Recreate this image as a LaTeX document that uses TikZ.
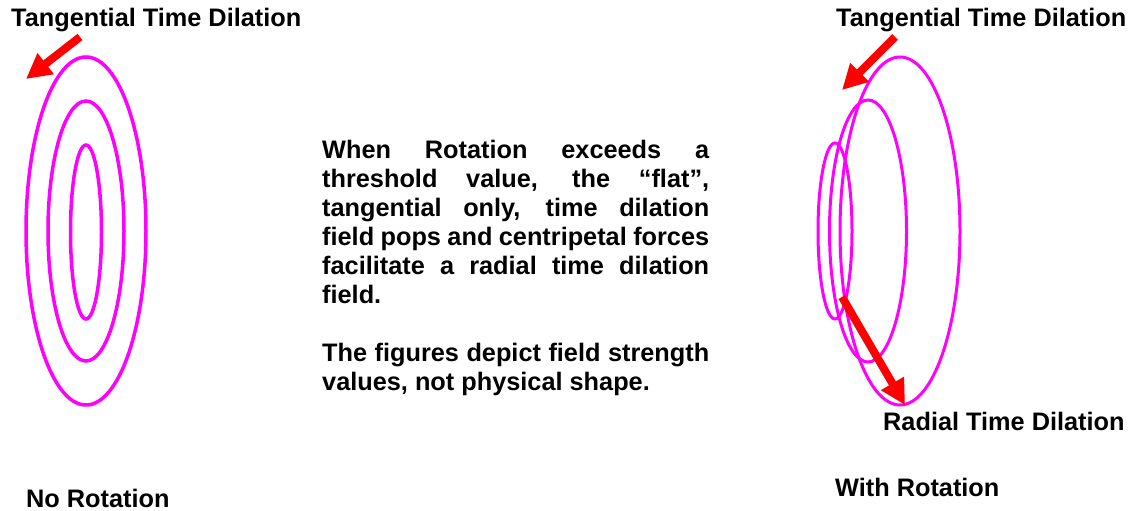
\documentclass[tikz,border=0pt]{standalone}
\usepackage{fontspec}
\setmainfont{Liberation Sans}
\usetikzlibrary{arrows.meta}
\definecolor{fieldpink}{RGB}{255,0,255}
\definecolor{arrowred}{RGB}{255,0,0}

\begin{document}
\begin{tikzpicture}[
  x=1pt, y=-1pt,
  headline/.style={inner sep=0pt, font=\fontsize{25.3}{29}\selectfont\bfseries},
  fieldring/.style={draw=fieldpink, line width=3.5pt},
  flowarrow/.style={draw=arrowred, line width=8pt,
                    -{Triangle[width=25pt,length=25pt]}}
]
  \useasboundingbox (0,0) rectangle (1135,511);

  \node[headline, anchor=base west] (tanleft) at (11,27) {Tangential Time Dilation};
  \node[headline, anchor=base west] (tanright) at (836,27) {Tangential Time Dilation};
  \node[headline, anchor=base west] (radial) at (883,430) {Radial Time Dilation};
  \node[headline, anchor=base west] (norot) at (26,507) {No Rotation};
  \node[headline, anchor=base west] (withrot) at (835,496) {With Rotation};

  \node[headline, anchor=north west, text width=387pt, align=justify] (note) at (322,140)
    {When Rotation exceeds a\linebreak
     threshold value, the “flat”,\linebreak
     tangential only, time dilation\linebreak
     field pops and centripetal forces\linebreak
     facilitate a radial time dilation\linebreak
     field.\par\vspace{29pt}
     The figures depict field strength\linebreak
     values, not physical shape.};

  \draw[fieldring] (86,231) ellipse [x radius=60pt, y radius=174pt];
  \draw[fieldring] (86,231) ellipse [x radius=38pt, y radius=130pt];
  \draw[fieldring] (86,232) ellipse [x radius=15.5pt, y radius=87pt];

  \draw[fieldring, line width=3pt] (900,231) ellipse [x radius=60pt, y radius=174pt];
  \draw[fieldring, line width=3pt] (868,231) ellipse [x radius=38.5pt, y radius=131pt];
  \draw[fieldring, line width=3pt] (835,231) ellipse [x radius=17pt, y radius=88pt];

  \coordinate (lefttail) at (80,37);
  \coordinate (lefttip) at (26,79);
  \coordinate (righttail) at (895,37);
  \coordinate (righttip) at (842,90);
  \coordinate (radtail) at (842,297);
  \coordinate (radtip) at (905,405);

  \draw[flowarrow] (lefttail) -- (lefttip);
  \draw[flowarrow] (righttail) -- (righttip);
  \draw[flowarrow] (radtail) -- (radtip);
\end{tikzpicture}
\end{document}
